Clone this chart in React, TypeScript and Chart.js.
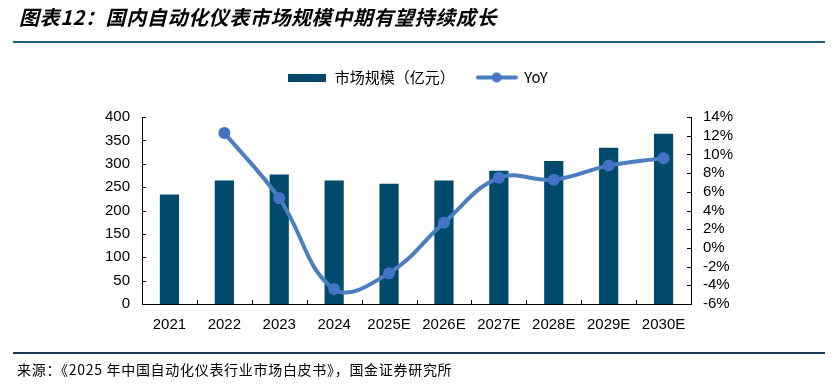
import React, { useEffect, useRef } from "react";
import { Chart, registerables } from "chart.js";

Chart.register(...registerables);

const categories = ["2021", "2022", "2023", "2024", "2025E", "2026E", "2027E", "2028E", "2029E", "2030E"];
const marketSize = [234, 264, 277, 264, 257, 264, 285, 306, 334, 364];
const yoy = [null, 12.3, 5.3, -4.4, -2.7, 2.7, 7.5, 7.3, 8.8, 9.6];
const leftTicks = { min: 0, max: 400, step: 50 };
const rightTicks = { min: -6, max: 14, step: 2 };

const barLabel = "市场规模（亿元）";
const lineLabel = "YoY";
const titleText = "图表12：国内自动化仪表市场规模中期有望持续成长";
const sourceText = "来源：《2025 年中国自动化仪表行业市场白皮书》，国金证券研究所";

const BAR_COLOR = "#004A6E";
const LINE_COLOR = "#4A7EBF";
const POINT_COLOR = "#4472C4";

function makeBarSwatch() {
  const c = document.createElement("canvas");
  c.width = 38;
  c.height = 8;
  const g = c.getContext("2d")!;
  g.fillStyle = BAR_COLOR;
  g.fillRect(0, 0, 38, 8);
  return c;
}

function makeLineSwatch() {
  const c = document.createElement("canvas");
  c.width = 42;
  c.height = 12;
  const g = c.getContext("2d")!;
  g.strokeStyle = LINE_COLOR;
  g.lineWidth = 4;
  g.lineCap = "round";
  g.beginPath();
  g.moveTo(2, 6);
  g.lineTo(40, 6);
  g.stroke();
  g.fillStyle = POINT_COLOR;
  g.beginPath();
  g.arc(21, 6, 5, 0, Math.PI * 2);
  g.fill();
  return c;
}

const legendSpacer = {
  id: "legendSpacer",
  afterInit(chart: any) {
    const lg = chart.legend;
    if (!lg) return;
    const orig = lg.fit.bind(lg);
    lg.fit = function () {
      orig();
      this.height += 22;
    };
  },
};

const innerTicks = {
  id: "innerTicks",
  afterDraw(chart: any) {
    const { ctx, chartArea, scales } = chart;
    const len = 4;
    ctx.save();
    ctx.strokeStyle = "#000";
    ctx.lineWidth = 1;
    ctx.beginPath();
    const y = scales.y;
    y.ticks.forEach((_t: any, i: number) => {
      const py = Math.round(y.getPixelForTick(i)) + 0.5;
      ctx.moveTo(chartArea.left, py);
      ctx.lineTo(chartArea.left + len, py);
    });
    const y1 = scales.y1;
    y1.ticks.forEach((_t: any, i: number) => {
      const py = Math.round(y1.getPixelForTick(i)) + 0.5;
      ctx.moveTo(chartArea.right, py);
      ctx.lineTo(chartArea.right - len, py);
    });
    const x = scales.x;
    for (let i = 0; i <= categories.length; i++) {
      const px = Math.round(x.getPixelForValue(i - 0.5)) + 0.5;
      ctx.moveTo(px, chartArea.bottom);
      ctx.lineTo(px, chartArea.bottom - len);
    }
    ctx.stroke();
    ctx.restore();
  },
};

export default function App() {
  const ref = useRef<HTMLCanvasElement | null>(null);

  useEffect(() => {
    document.body.style.margin = "0";
    const canvas = ref.current!;
    const barSwatch = makeBarSwatch();
    const lineSwatch = makeLineSwatch();
    const tickFont = { family: "'Liberation Sans', Arial, sans-serif", size: 15 };

    const chart = new Chart(canvas, {
      type: "bar",
      data: {
        labels: categories,
        datasets: [
          {
            type: "bar",
            label: barLabel,
            data: marketSize,
            backgroundColor: BAR_COLOR,
            yAxisID: "y",
            barPercentage: 0.35,
            categoryPercentage: 1,
            order: 2,
          },
          {
            type: "line",
            label: lineLabel,
            data: yoy,
            yAxisID: "y1",
            borderColor: LINE_COLOR,
            borderWidth: 4,
            tension: 0.4,
            pointRadius: 6,
            pointBackgroundColor: POINT_COLOR,
            pointBorderColor: POINT_COLOR,
            pointBorderWidth: 0,
            order: 1,
          } as any,
        ],
      },
      options: {
        responsive: false,
        animation: false,
        layout: { padding: { top: 48, left: 0, right: 0, bottom: 0 } },
        plugins: {
          tooltip: { enabled: false },
          legend: {
            display: true,
            position: "top",
            labels: {
              usePointStyle: true,
              pointStyleWidth: 40,
              padding: 22,
              color: "#000",
              font: { family: "'Noto Sans CJK SC', sans-serif", size: 15 },
              generateLabels: () => [
                { text: barLabel, pointStyle: barSwatch as any, fillStyle: BAR_COLOR, strokeStyle: BAR_COLOR, lineWidth: 0, datasetIndex: 0, hidden: false },
                { text: lineLabel, pointStyle: lineSwatch as any, fillStyle: POINT_COLOR, strokeStyle: LINE_COLOR, lineWidth: 0, datasetIndex: 1, hidden: false } as any,
              ],
            },
          },
        },
        scales: {
          x: {
            offset: true,
            grid: { display: false, offset: true, drawTicks: false },
            border: { display: true, color: "#000", width: 1 },
            ticks: { color: "#000", font: tickFont, padding: 12, maxRotation: 0, autoSkip: false },
            afterFit: (s: any) => {
              s.height = 85;
            },
          },
          y: {
            position: "left",
            min: leftTicks.min,
            max: leftTicks.max,
            grid: { display: false, drawTicks: false },
            border: { display: true, color: "#000", width: 1 },
            ticks: { stepSize: leftTicks.step, color: "#000", font: tickFont, padding: 12, autoSkip: false },
            afterFit: (s: any) => {
              s.width = 142;
            },
          },
          y1: {
            position: "right",
            min: rightTicks.min,
            max: rightTicks.max,
            grid: { display: false, drawTicks: false },
            border: { display: true, color: "#000", width: 1 },
            ticks: {
              stepSize: rightTicks.step,
              color: "#000",
              font: tickFont,
              padding: 12,
              autoSkip: false,
              callback: (v: any) => `${v}%`,
            },
            afterFit: (s: any) => {
              s.width = 144;
            },
          },
        },
      },
      plugins: [legendSpacer, innerTicks],
    });
    return () => chart.destroy();
  }, []);

  return (
    <div style={{ position: "relative", width: 835, height: 389, background: "#fff", overflow: "hidden" }}>
      <canvas ref={ref} width={835} height={389} style={{ position: "absolute", left: 0, top: 0, width: 835, height: 389 }} />
      <div
        style={{
          position: "absolute",
          left: 19,
          top: 3,
          fontFamily: "'Noto Sans CJK SC', sans-serif",
          fontSize: 20,
          fontStyle: "italic",
          fontWeight: 700,
          letterSpacing: 0.6,
          color: "#000",
          whiteSpace: "nowrap",
          lineHeight: "28px",
        }}
      >
        {titleText}
      </div>
      <div style={{ position: "absolute", left: 13, top: 41, width: 812, height: 2, background: "#1B5E80" }} />
      <div style={{ position: "absolute", left: 13, top: 352, width: 812, height: 2, background: "#17385A" }} />
      <div
        style={{
          position: "absolute",
          left: 17,
          top: 359,
          fontFamily: "'Noto Sans CJK SC', sans-serif",
          fontSize: 14,
          letterSpacing: 0.7,
          color: "#000",
          whiteSpace: "nowrap",
          lineHeight: "20px",
        }}
      >
        {sourceText}
      </div>
    </div>
  );
}
